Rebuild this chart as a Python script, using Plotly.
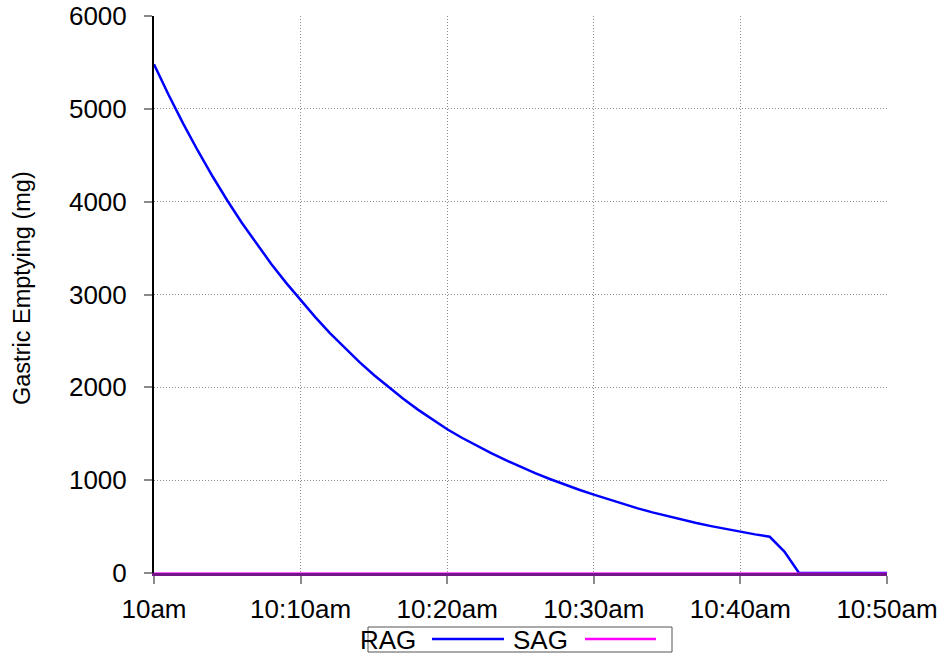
import plotly.graph_objects as go

# Minutes after 10:00
minutes = list(range(0, 51))

# Rapidly available glucose remaining in the stomach (mg)
rag_mg = [
    5480, 5149, 4838, 4546, 4271, 4013, 3771, 3543, 3329, 3128,
    2939, 2757, 2585, 2425, 2274, 2133, 2001, 1876, 1760, 1651,
    1548, 1457, 1371, 1291, 1215, 1143, 1076, 1013, 953, 897,
    844, 792, 742, 696, 653, 612, 574, 538, 505, 473,
    444, 416, 390, 230, 0, 0, 0, 0, 0, 0,
    0,
]

# Slowly available glucose (mg)
sag_mg = [0] * 51

tick_minutes = [0, 10, 20, 30, 40, 50]
tick_labels = ["10am", "10:10am", "10:20am", "10:30am", "10:40am", "10:50am"]
y_ticks = [0, 1000, 2000, 3000, 4000, 5000, 6000]

FONT = "Liberation Sans, Arial, Helvetica, sans-serif"
GRID = "#8a8a8a"

fig = go.Figure()
fig.add_trace(go.Scatter(x=minutes, y=rag_mg, mode="lines", name="RAG",
                         line=dict(color="#0000ff", width=2.5), showlegend=False))
fig.add_trace(go.Scatter(x=minutes, y=sag_mg, mode="lines", name="SAG",
                         line=dict(color="#ff00ff", width=2), opacity=0.6,
                         showlegend=False))

axis_common = dict(
    showgrid=True, gridcolor=GRID, griddash="1px,2px", gridwidth=1,
    showline=True,
    ticks="outside", ticklen=8, tickcolor="#8a8a8a", tickwidth=1.5,
    zeroline=False, tickfont=dict(size=26), automargin=False,
)

fig.update_layout(
    width=941, height=655,
    margin=dict(l=154, r=54, t=16, b=82),
    paper_bgcolor="white", plot_bgcolor="white",
    font=dict(family=FONT, size=26, color="black"),
    xaxis=dict(range=[0, 50], tickvals=tick_minutes, ticktext=tick_labels,
               ticklabelstandoff=3, linecolor="#74168a", linewidth=3,
               **axis_common),
    yaxis=dict(range=[0, 6000], tickvals=y_ticks,
               ticklabelstandoff=12, linecolor="black", linewidth=2,
               **axis_common),
)

# Pixel helpers for placing decorations in paper coordinates
def px_x(p):
    return (p - 154) / 733

def px_y(p):
    return (573 - p) / 557

# Vertical axis title
fig.add_annotation(text="Gastric Emptying (mg)", xref="paper", yref="paper",
                   x=px_x(22), y=px_y(288), textangle=-90,
                   xanchor="center", yanchor="middle", showarrow=False,
                   font=dict(size=23.5))

# Legend drawn as a boxed row: label followed by a line sample
fig.add_shape(type="rect", xref="paper", yref="paper",
              x0=px_x(368), x1=px_x(672), y0=px_y(652), y1=px_y(627),
              line=dict(color="#555555", width=1), fillcolor="rgba(0,0,0,0)")
fig.add_shape(type="line", xref="paper", yref="paper",
              x0=px_x(432), x1=px_x(504), y0=px_y(639), y1=px_y(639),
              line=dict(color="#0000ff", width=2.5))
fig.add_shape(type="line", xref="paper", yref="paper",
              x0=px_x(585), x1=px_x(656), y0=px_y(639), y1=px_y(639),
              line=dict(color="#ff00ff", width=2.5))
fig.add_annotation(text="RAG", xref="paper", yref="paper",
                   x=px_x(358), y=px_y(640), xanchor="left", yanchor="middle",
                   showarrow=False, font=dict(size=26))
fig.add_annotation(text="SAG", xref="paper", yref="paper",
                   x=px_x(511), y=px_y(640), xanchor="left", yanchor="middle",
                   showarrow=False, font=dict(size=26))

fig.write_html("out.html")
